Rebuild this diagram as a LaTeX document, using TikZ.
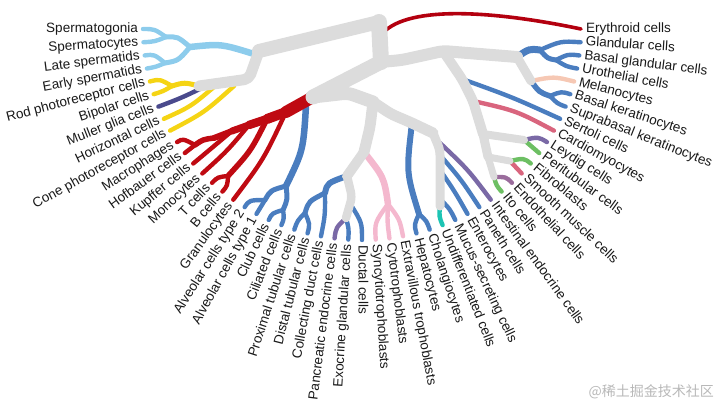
\documentclass[tikz,border=0pt]{standalone}
\usepackage{fontspec}
\setmainfont{Liberation Sans}
\newfontfamily\cjkfont{Noto Sans CJK SC}
\usepackage{tikz}
\usetikzlibrary{calc}
\definecolor{cGrey}{HTML}{DCDCDC}
\definecolor{cSky}{HTML}{8DCCEC}
\definecolor{cYellow}{HTML}{F5D414}
\definecolor{cNavy}{HTML}{4A4A8C}
\definecolor{cRed}{HTML}{BF0A12}
\definecolor{cEry}{HTML}{B3000F}
\definecolor{cBlue}{HTML}{4A7DBF}
\definecolor{cPurple}{HTML}{7A69A6}
\definecolor{cPink}{HTML}{F4B8CE}
\definecolor{cTeal}{HTML}{1CC4B4}
\definecolor{cMauve}{HTML}{9A6C9C}
\definecolor{cRose}{HTML}{D9657E}
\definecolor{cGreen}{HTML}{6DBF63}
\definecolor{cPeach}{HTML}{F6C8B4}
\tikzset{
  tleaf/.style={line width=4.4pt,line cap=round,draw=#1},
  tgrey/.style={line width=#1,line cap=round,line join=round,draw=cGrey,rounded corners=5pt},
  tred/.style={line width=#1,line cap=round,line join=round,draw=cRed},
  tlbl/.style={font={\fontsize{13.5}{15}\selectfont},text=black!90,inner sep=1pt,
    text height=9.5pt,text depth=2.8pt},
}
\newcommand{\branch}[3]{%
  \draw[#1] let \p1=($(#2)-(C)$), \p2=($(#3)-(C)$),
    \n1={(veclen(\x1,\y1)+veclen(\x2,\y2))/2} in
    (#2) .. controls ($(C)!\n1!(#3)$) .. (#3);}

\begin{document}
\begin{tikzpicture}[x=1pt,y=-1pt]
\useasboundingbox (0,0) rectangle (720,412);
\coordinate (C) at (362,29);
\foreach \i in {0,...,50}
  \coordinate (l-\i) at ($(C)+({219*cos(180-3.6*\i)},{211*sin(180-3.6*\i)})$);
% grey trunk points
\coordinate (g-top) at (379,22);
\coordinate (g-tl) at (259,51);
\coordinate (g-tlb) at (249,79);
\coordinate (g-t) at (254,54);
\coordinate (g-e1) at (199,86);
\coordinate (g-e2) at (204,87);
\coordinate (g-e3) at (214,87);
\coordinate (g-e4) at (234,86);
\coordinate (g-mid) at (381,62);
\coordinate (g-imm) at (313,97);
\coordinate (g-ca) at (348,93);
\coordinate (g-c1) at (373,102);
\coordinate (g-cb) at (391,114);
\coordinate (g-liv) at (412,123);
\coordinate (g-int) at (433,133);
\coordinate (g-intb) at (440,150);
\coordinate (g-int2) at (440,206);
\coordinate (g-ie) at (440,143);
\coordinate (g-ip) at (440,155);
\coordinate (g-ien) at (440,170);
\coordinate (g-im) at (441,200);
\coordinate (g-d1) at (370,127);
\coordinate (g-pl) at (364,152);
\coordinate (g-kid) at (347,176);
\coordinate (g-d2) at (352,197);
\coordinate (g-panc) at (346,218);
\coordinate (g-duct) at (351,205);
\coordinate (g-r0) at (402,60);
\coordinate (g-r1) at (443,51);
\coordinate (g-gland) at (517,57);
\coordinate (g-ker) at (531,81);
\coordinate (g-sert) at (462,79);
\coordinate (g-card) at (473,101);
\coordinate (g-r2) at (483,134);
\coordinate (g-ley) at (524,140);
\coordinate (g-r3) at (488,157);
\coordinate (g-sm) at (510,161);
\coordinate (g-ito) at (494,177);
\coordinate (g-ery) at (386,30);
% coloured junctions
\coordinate (j-t0) at (190,47);
\coordinate (j-t1) at (166,37);
\coordinate (j-t2) at (165,63);
\coordinate (j-e1) at (172,86);
\coordinate (r1) at (286,112);
\coordinate (r2) at (267,119);
\coordinate (r3) at (249,125);
\coordinate (r4) at (232,131);
\coordinate (r5) at (214,138);
\coordinate (j-tb) at (228,176);
\coordinate (j-mh) at (195,145);
\coordinate (b-lu) at (306,106);
\coordinate (j-lu1) at (286,186);
\coordinate (j-lu2) at (265,200);
\coordinate (j-lu3) at (283,210);
\coordinate (j-k1) at (325,193);
\coordinate (j-k2) at (305,213);
\coordinate (j-pl) at (388,204);
\coordinate (j-lv) at (419,214);
\coordinate (j-kr) at (550,96);
\coordinate (j-gl) at (540,50);
\coordinate (j-gl2) at (556,60);

\foreach \cl/\wd/\pa/\ch in {cSky/6.5/g-t/j-t0, cSky/5/j-t0/j-t1, cSky/5/j-t0/j-t2,
  cYellow/5/g-e1/j-e1, cRed/5.5/r2/j-tb, cRed/5.5/r5/j-mh,
  cBlue/6.5/b-lu/j-lu1, cBlue/5/j-lu1/j-lu2, cBlue/5/j-lu1/j-lu3,
  cBlue/6/g-kid/j-k1, cBlue/5/j-k1/j-k2, cPink/6.5/g-pl/j-pl, cBlue/6/g-liv/j-lv,
  cBlue/5.5/g-ker/j-kr, cBlue/7/g-gland/j-gl, cBlue/5/j-gl/j-gl2}
  \branch{tleaf=\cl,line width=\wd pt}{\pa}{\ch};

\foreach \cl/\pa/\ch in {cSky/j-t1/l-0, cSky/j-t1/l-1, cSky/j-t2/l-2, cSky/j-t2/l-3,
  cYellow/j-e1/l-4, cYellow/j-e1/l-5, cNavy/g-e2/l-6, cYellow/g-e3/l-7, cYellow/g-e4/l-8,
  cRed/j-mh/l-9, cRed/j-mh/l-10, cRed/r4/l-11, cRed/r3/l-12, cRed/j-tb/l-13,
  cRed/j-tb/l-14, cRed/r1/l-15,
  cBlue/j-lu2/l-16, cBlue/j-lu2/l-17, cBlue/j-lu3/l-18, cBlue/j-lu3/l-19,
  cBlue/j-k2/l-20, cBlue/j-k2/l-21, cBlue/j-k1/l-22,
  cPurple/g-panc/l-23, cBlue/g-panc/l-24, cBlue/g-duct/l-25,
  cPink/j-pl/l-26, cPink/j-pl/l-27, cPink/j-pl/l-28, cBlue/j-lv/l-29, cBlue/j-lv/l-30,
  cTeal/g-int2/l-31, cBlue/g-im/l-32, cBlue/g-ien/l-33, cBlue/g-ip/l-34, cPurple/g-ie/l-35,
  cGreen/g-ito/l-36, cMauve/g-ito/l-37, cRose/g-sm/l-38, cGreen/g-sm/l-39,
  cGreen/g-ley/l-40, cPurple/g-ley/l-41, cRose/g-card/l-42, cBlue/g-sert/l-43,
  cBlue/j-kr/l-44, cBlue/j-kr/l-45, cPeach/g-ker/l-46,
  cBlue/j-gl2/l-47, cBlue/j-gl2/l-48, cBlue/j-gl/l-49}
  \branch{tleaf=\cl}{\pa}{\ch};

\draw[line width=3.6pt,line cap=round,draw=cEry] (g-ery) .. controls (416,5) and (500,12) .. (l-50);
\draw[tred=12pt] (g-imm) -- (r1);
\draw[tred=10pt] (r1) -- (r2);
\draw[tred=8.5pt] (r2) -- (r3);
\draw[tred=7pt] (r3) -- (r4);
\draw[tred=6pt] (r4) -- (r5);

\draw[tgrey=14pt] (g-top) -- (g-tl);
\draw[tgrey=11pt] (g-tl) -- (g-tlb) -- (g-e1);
\draw[tgrey=16pt] (g-top) -- (g-mid);
\draw[tgrey=15pt] (g-mid) -- (g-imm);
\draw[tgrey=13pt] (g-imm) -- (g-ca) -- (g-c1);
\draw[tgrey=11pt] (g-c1) -- (g-cb) -- (g-liv) -- (g-int);
\draw[tgrey=9pt] (g-int) -- (g-intb) -- (g-int2);
\draw[tgrey=11pt] (g-c1) -- (g-d1) -- (g-pl);
\draw[tgrey=10pt] (g-pl) -- (g-kid);
\draw[tgrey=8.5pt] (g-kid) -- (g-d2) -- (g-panc);
\draw[tgrey=12pt] (g-mid) -- (g-r0) -- (g-r1) -- (g-gland);
\draw[tgrey=9pt] (g-gland) -- (g-ker);
\draw[tgrey=10pt] (g-r1) -- (g-sert) -- (g-card) -- (g-r2);
\draw[tgrey=8pt] (g-r2) -- (g-ley);
\draw[tgrey=9pt] (g-r2) -- (g-r3);
\draw[tgrey=7pt] (g-r3) -- (g-sm);
\draw[tgrey=7pt] (g-r3) -- (g-ito);

\foreach \nm [count=\i from 0] in {Spermatogonia,Spermatocytes,Late spermatids,
  Early spermatids,Rod photoreceptor cells,Bipolar cells,Muller glia cells,
  Horizontal cells,Cone photoreceptor cells,Macrophages,Hofbauer cells,Kupffer cells,
  Monocytes,T cells,B cells,Granulocytes,Alveolar cells type 2,Alveolar cells type 1,
  Club cells,Ciliated cells,Proximal tubular cells,Distal tubular cells,
  Collecting duct cells,Pancreatic endocrine cells,Exocrine glandular cells,
  Ductal cells,Syncytiotrophoblasts,Cytotrophoblasts,Extravillous trophoblasts,
  Hepatocytes,Cholangiocytes,Undifferentiated cells,Mucus-secreting cells,
  Enterocytes,Paneth cells,Intestinal endocrine cells,Ito cells,Endothelial cells,
  Smooth muscle cells,Fibroblasts,Peritubular cells,Leydig cells,Cardiomyocytes,
  Sertoli cells,Suprabasal keratinocytes,Basal keratinocytes,Melanocytes,
  Urothelial cells,Basal glandular cells,Glandular cells,Erythroid cells}{
  \ifnum\i<25
    \node[tlbl,anchor=east,rotate={3.6*\i}] (t-\i)
      at ($(C)+({223*cos(180-3.6*\i)},{215*sin(180-3.6*\i)})$) {\nm};
  \else
    \node[tlbl,anchor=west,rotate={3.6*\i-180}] (t-\i)
      at ($(C)+({223*cos(180-3.6*\i)},{215*sin(180-3.6*\i)})$) {\nm};
  \fi
}
\node[font={\cjkfont\fontsize{14}{16}\selectfont},text=black!28,anchor=east,inner sep=0pt] (wm)
  at (714,392) {@稀土掘金技术社区};
\end{tikzpicture}
\end{document}
